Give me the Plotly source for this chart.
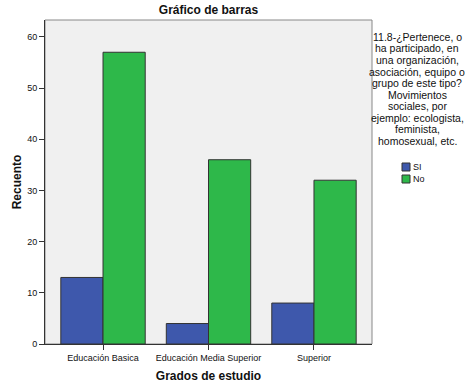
import plotly.graph_objects as go

categories = ["Educación Basica", "Educación Media Superior", "Superior"]
si_values = [13, 4, 8]
no_values = [57, 36, 32]
series_names = ["SI", "No"]
series_colors = ["#3E58AC", "#2EB84A"]
y_ticks = [0, 10, 20, 30, 40, 50, 60]

legend_title_lines = [
    "11.8-¿Pertenece, o",
    "ha participado, en",
    "una organización,",
    "asociación, equipo o",
    "grupo de este tipo?",
    "Movimientos",
    "sociales, por",
    "ejemplo: ecologista,",
    "feminista,",
    "homosexual, etc.",
]

FONT = "Liberation Sans, Arial, sans-serif"
W, H = 470, 383
L, R, T, B = 45, 98, 20, 39
plot_w, plot_h = W - L - R, H - T - B


def px_x(px):
    return (px - L) / plot_w


def px_y(py):
    return (H - B - py) / plot_h


fig = go.Figure()
for name, vals, color in zip(series_names, [si_values, no_values], series_colors):
    fig.add_trace(go.Bar(
        x=categories, y=vals, name=name,
        marker=dict(color=color, line=dict(color="#333333", width=1)),
        showlegend=False,
    ))

annotations = []
line_y0, line_step = 37, 11.5
for i, txt in enumerate(legend_title_lines):
    annotations.append(dict(
        text=txt, xref="paper", yref="paper", x=px_x(417), y=px_y(line_y0 + i * line_step),
        xanchor="center", yanchor="middle", showarrow=False,
        font=dict(family=FONT, size=10.5, color="#111"),
    ))

shapes = [dict(type="rect", xref="paper", yref="paper", x0=0, x1=1, y0=0, y1=1,
               line=dict(color="#888888", width=1), layer="below")]
legend_y0, legend_step = 167, 12
for i, (name, color) in enumerate(zip(series_names, series_colors)):
    cy = legend_y0 + i * legend_step
    shapes.append(dict(type="rect", xref="paper", yref="paper",
                       x0=px_x(402), x1=px_x(410), y0=px_y(cy + 4), y1=px_y(cy - 4),
                       fillcolor=color, line=dict(color="#333333", width=1)))
    annotations.append(dict(
        text=name, xref="paper", yref="paper", x=px_x(411), y=px_y(cy),
        xanchor="left", yanchor="middle", showarrow=False,
        font=dict(family=FONT, size=9, color="#111"),
    ))

fig.update_layout(
    width=W, height=H,
    margin=dict(l=L, r=R, t=T, b=B),
    paper_bgcolor="white", plot_bgcolor="#F0F0F0",
    barmode="group", bargap=0.2, bargroupgap=0,
    font=dict(family=FONT, size=9, color="#111"),
    title=dict(text="<b>Gráfico de barras</b>", x=(L + 163.5) / W,
               xanchor="center", y=1 - 10 / H, yanchor="middle",
               font=dict(family=FONT, size=12, color="#111")),
    showlegend=False,
    annotations=annotations,
    shapes=shapes,
)
fig.update_xaxes(
    automargin=False,
    showline=True, linecolor="#333333", linewidth=1,
    ticks="outside", ticklen=5, tickcolor="#333333",
    tickfont=dict(family=FONT, size=9),
    title=dict(text="<b>Grados de estudio</b>", font=dict(family=FONT, size=12), standoff=10),
    range=[-0.55, 2.55], showgrid=False,
)
fig.update_yaxes(
    automargin=False,
    showline=True, linecolor="#333333", linewidth=1,
    ticks="outside", ticklen=5, tickcolor="#333333",
    tickvals=y_ticks, tickfont=dict(family=FONT, size=9),
    title=dict(text="<b>Recuento</b>", font=dict(family=FONT, size=12), standoff=2),
    range=[0, 63.3], showgrid=False, zeroline=False,
)

# the page body has a default 8px margin; drop it so the figure sits at 0,0
fig.write_html("out.html", config={"displayModeBar": False},
               post_script="document.body.style.margin='0';")
